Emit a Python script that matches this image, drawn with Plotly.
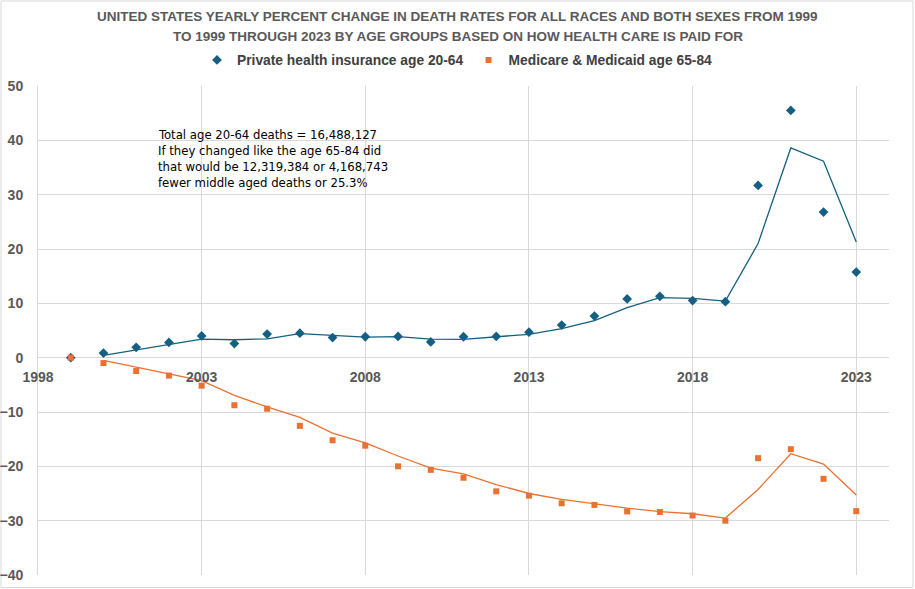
import pandas as pd
import plotly.graph_objects as go

years = list(range(1999, 2024))
private_20_64 = [0.0, 0.85, 1.9, 2.8, 4.0, 2.6, 4.35, 4.5, 3.7, 3.85, 3.9, 2.9,
                 3.85, 3.9, 4.7, 6.0, 7.65, 10.8, 11.3, 10.5, 10.3, 31.7, 45.5, 26.8, 15.75]
medicare_65_84 = [0.0, -1.0, -2.45, -3.3, -5.15, -8.75, -9.4, -12.55, -15.2, -16.2, -20.0, -20.65,
                  -22.1, -24.6, -25.4, -26.8, -27.1, -28.3, -28.4, -29.05, -30.0, -18.5, -16.85, -22.3, -28.25]
x_ticks = [1998, 2003, 2008, 2013, 2018, 2023]
y_ticks = list(range(-40, 60, 10))

title_lines = ["UNITED STATES YEARLY PERCENT CHANGE IN DEATH RATES FOR ALL RACES AND BOTH SEXES FROM 1999",
               "TO 1999 THROUGH 2023 BY AGE GROUPS BASED ON HOW HEALTH CARE IS PAID FOR"]
note_lines = ["Total age 20-64 deaths = 16,488,127",
              "If they changed like the age 65-84 did",
              "that would be 12,319,384 or 4,168,743",
              "fewer middle aged deaths or 25.3%"]

BLUE = "#156082"
ORANGE = "#E97132"
GRID = "#D9D9D9"
TXT = "#595959"
NARROW = "Liberation Sans Narrow, Arial Narrow, sans-serif"

df = pd.DataFrame({"year": years, "priv": private_20_64, "med": medicare_65_84})
ma = df[["priv", "med"]].rolling(2).mean()
ma["year"] = df["year"]
ma = ma.dropna()

fig = go.Figure()
fig.add_trace(go.Scatter(x=ma["year"], y=ma["priv"], mode="lines",
                         line=dict(color=BLUE, width=1.3), showlegend=False, hoverinfo="skip"))
fig.add_trace(go.Scatter(x=ma["year"], y=ma["med"], mode="lines",
                         line=dict(color=ORANGE, width=1.3), showlegend=False, hoverinfo="skip"))
fig.add_trace(go.Scatter(x=df["year"], y=df["priv"], mode="markers", name="Private health insurance age 20-64",
                         marker=dict(symbol="diamond", size=7.5, color=BLUE)))
fig.add_trace(go.Scatter(x=df["year"], y=df["med"], mode="markers", name="Medicare & Medicaid age 65-84",
                         marker=dict(symbol="square", size=6, color=ORANGE)))

L, R, T, B = 38, 26, 86, 14
W, H = 915, 589
pw, ph = W - L - R, H - T - B


def py(px_from_top):
    return (H - B - px_from_top) / ph


def px(px_from_left):
    return (px_from_left - L) / pw


fig.update_layout(
    width=W, height=H,
    margin=dict(l=L, r=R, t=T, b=B, autoexpand=False),
    paper_bgcolor="white", plot_bgcolor="white",
    legend=dict(orientation="h", x=0.5, xref="container", xanchor="center",
                y=1 - 60 / H, yref="container", yanchor="middle",
                font=dict(family=NARROW, size=13.8, color="#404040", weight="bold"),
                itemwidth=30, bgcolor="rgba(0,0,0,0)"),
    xaxis=dict(range=[1998, 2024], tickvals=x_ticks, ticktext=[str(t) for t in x_ticks],
               showgrid=True, gridcolor=GRID, gridwidth=1, zeroline=False, showline=False,
               anchor="free", position=40 / 90, automargin=False,
               ticks="outside", ticklen=7, tickcolor="rgba(0,0,0,0)",
               tickfont=dict(family="Liberation Sans, Arial, sans-serif", size=14, color=TXT, weight="bold")),
    yaxis=dict(range=[-40, 50], tickvals=y_ticks, showgrid=True, gridcolor=GRID, gridwidth=1,
               zeroline=True, zerolinecolor=GRID, zerolinewidth=1, automargin=False,
               showline=True, linecolor=GRID, linewidth=1,
               ticks="outside", ticklen=11, tickcolor="rgba(0,0,0,0)",
               tickfont=dict(family="Liberation Sans, Arial, sans-serif", size=14, color=TXT, weight="bold")),
)

for i, line in enumerate(title_lines):
    fig.add_annotation(text=line, xref="paper", yref="paper", x=px(457.5), y=py(16 + 20 * i),
                       xanchor="center", yanchor="middle", showarrow=False,
                       font=dict(family=NARROW, size=13.5, color=TXT, weight="bold"))

for i, line in enumerate(note_lines):
    fig.add_annotation(text=line, xref="paper", yref="paper", x=px(156), y=py(134 + 16 * i),
                       xanchor="left", yanchor="middle", showarrow=False,
                       font=dict(family="DejaVu Sans Condensed, DejaVu Sans, sans-serif", size=13, color="black"))

fig.add_shape(type="rect", xref="paper", yref="paper",
              x0=px(1), x1=px(913), y0=py(587.5), y1=py(1),
              line=dict(color=GRID, width=1), fillcolor="rgba(0,0,0,0)", layer="below")

fig.write_html("out.html", config={"displayModeBar": False},
               post_script="document.body.style.margin='0';document.body.style.overflow='hidden';")
